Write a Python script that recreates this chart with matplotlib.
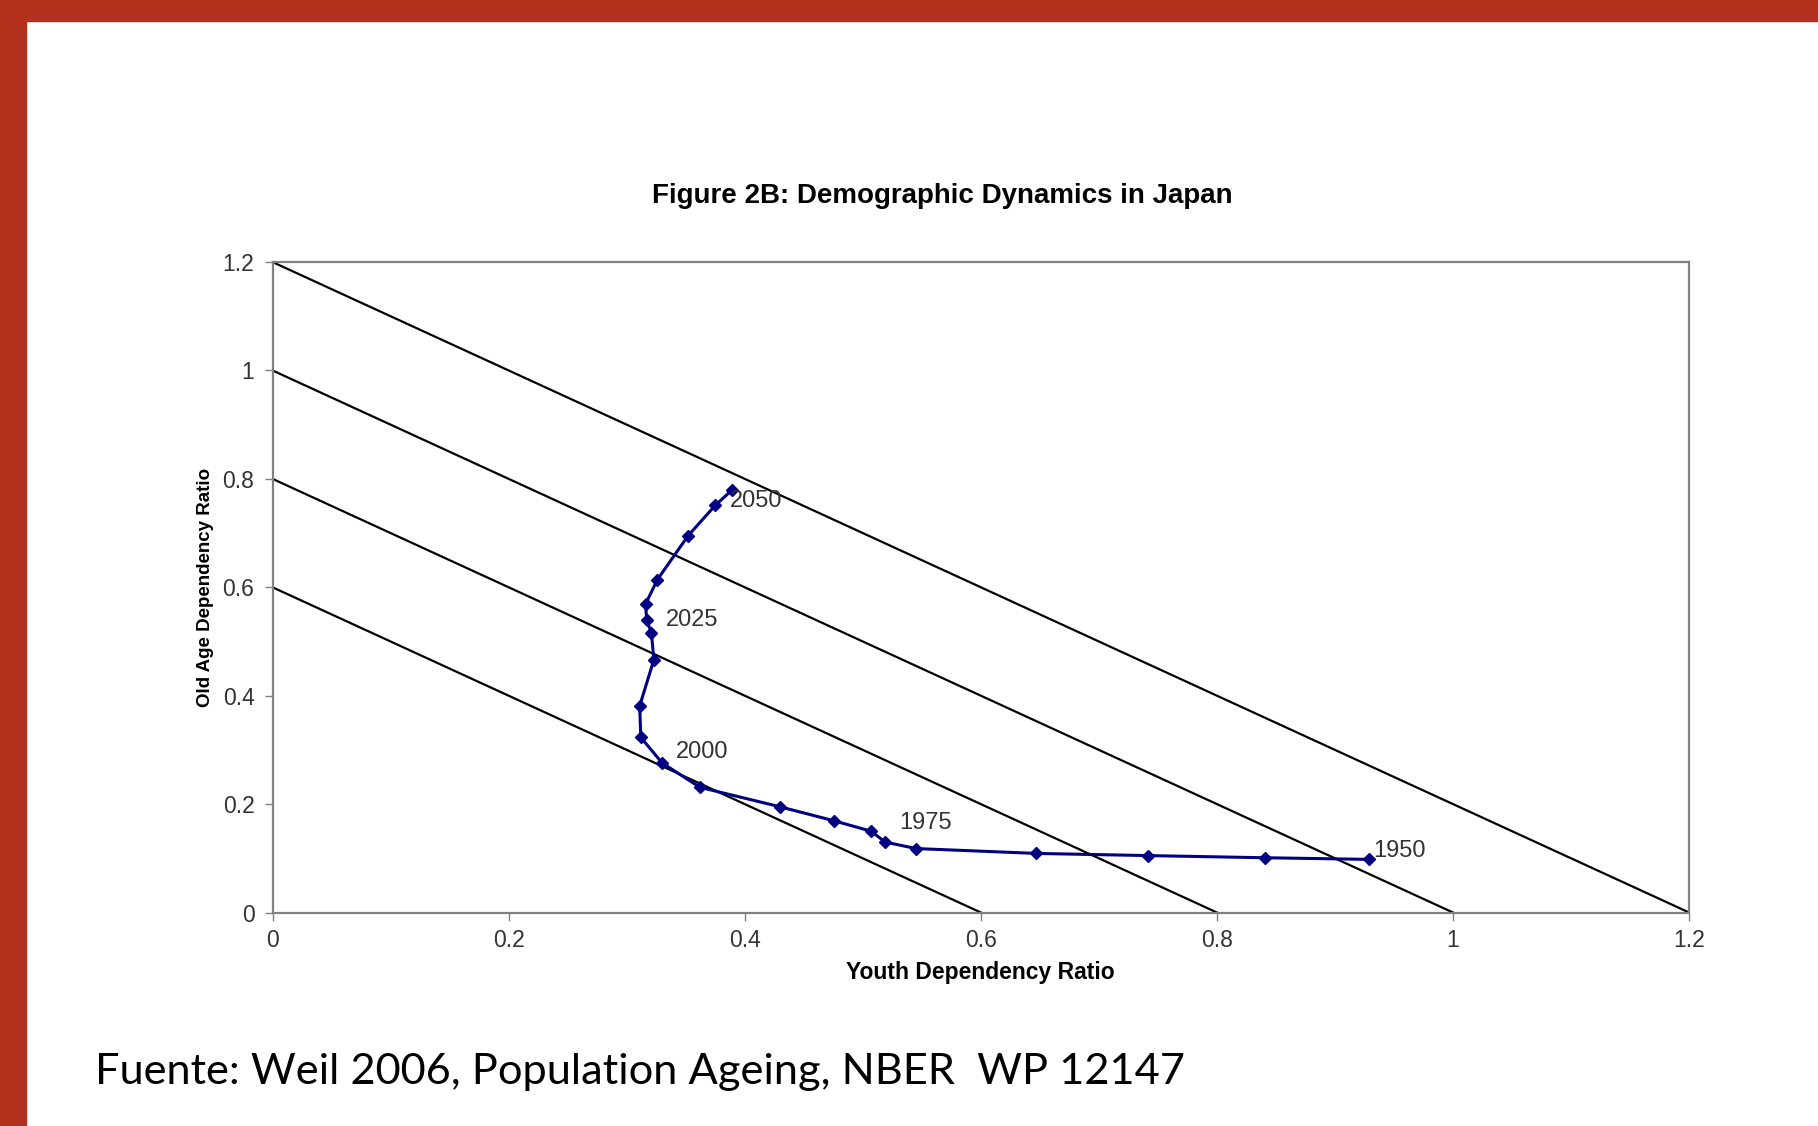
import matplotlib.pyplot as plt
from matplotlib.patches import Rectangle

# Japan: youth vs old-age dependency ratio, 1950-2050 every 5 years
years = list(range(1950, 2051, 5))
youth = [0.929, 0.841, 0.742, 0.647, 0.545, 0.519, 0.507, 0.476, 0.430, 0.362, 0.330,
         0.312, 0.311, 0.323, 0.321, 0.317, 0.316, 0.326, 0.352, 0.375, 0.389]
old_age = [0.098, 0.101, 0.105, 0.109, 0.118, 0.130, 0.150, 0.169, 0.195, 0.231, 0.276,
           0.323, 0.381, 0.466, 0.516, 0.539, 0.569, 0.614, 0.695, 0.751, 0.779]

# total dependency iso-lines (youth + old = c)
iso_levels = [0.6, 0.8, 1.0, 1.2]

# labelled years and their label offsets (points)
label_years = [2050, 2025, 2000, 1975, 1950]
label_offsets = [(-1, -8), (14, 0), (10, 8), (10, 14), (3, 6)]

ticks = [0, 0.2, 0.4, 0.6, 0.8, 1, 1.2]
tick_labels = ["0", "0.2", "0.4", "0.6", "0.8", "1", "1.2"]

plt.rcParams['font.family'] = ['Liberation Sans', 'DejaVu Sans']

fig = plt.figure(figsize=(18.18, 11.26), dpi=100)
fig.patch.set_facecolor('white')

# red slide border (top and left)
red = '#B3301C'
fig.patches.append(Rectangle((0, 1 - 21 / 1126), 1, 21 / 1126, transform=fig.transFigure,
                             color=red, zorder=0))
fig.patches.append(Rectangle((0, 0), 26 / 1818, 1, transform=fig.transFigure,
                             color=red, zorder=0))

ax = fig.add_axes([0.1499, 0.1896, 0.7792, 0.5777])

for c in iso_levels:
    ax.plot([0, c], [c, 0], color='black', lw=1.6, zorder=2)

ax.plot(youth, old_age, color='#000080', lw=2.2, marker='D', markersize=6.5,
        markerfacecolor='#000080', markeredgecolor='#000080', zorder=3)

for yr, off in zip(label_years, label_offsets):
    i = years.index(yr)
    ax.annotate(str(yr), (youth[i], old_age[i]), xytext=off, textcoords='offset points',
                ha='left', va='center', fontsize=17, color='#333333', zorder=4)

ax.set_xlim(0, 1.2)
ax.set_ylim(0, 1.2)
ax.set_xticks(ticks)
ax.set_xticklabels(tick_labels)
ax.set_yticks(ticks)
ax.set_yticklabels(tick_labels)
ax.tick_params(axis='both', direction='out', length=6, width=1, color='#808080',
               labelsize=16.5, labelcolor='#333333')
ax.tick_params(axis='x', pad=6)
ax.tick_params(axis='y', pad=7)
for s in ax.spines.values():
    s.set_color('#808080')
    s.set_linewidth(1.6)

ax.set_xlabel('Youth Dependency Ratio', fontsize=16.5, fontweight='bold', labelpad=6)
ax.set_ylabel('Old Age Dependency Ratio', fontsize=13.5, fontweight='bold', labelpad=6)

fig.text(0.5185, 0.826, 'Figure 2B: Demographic Dynamics in Japan', ha='center', va='center',
         fontsize=20, fontweight='bold')

fig.text(95 / 1818, 1 - 1084 / 1126, 'Fuente: Weil 2006, Population Ageing, NBER  WP 12147',
         ha='left', va='baseline', fontsize=31.2, family=['Lato', 'DejaVu Sans'])

fig.savefig('out.png', dpi=100)
